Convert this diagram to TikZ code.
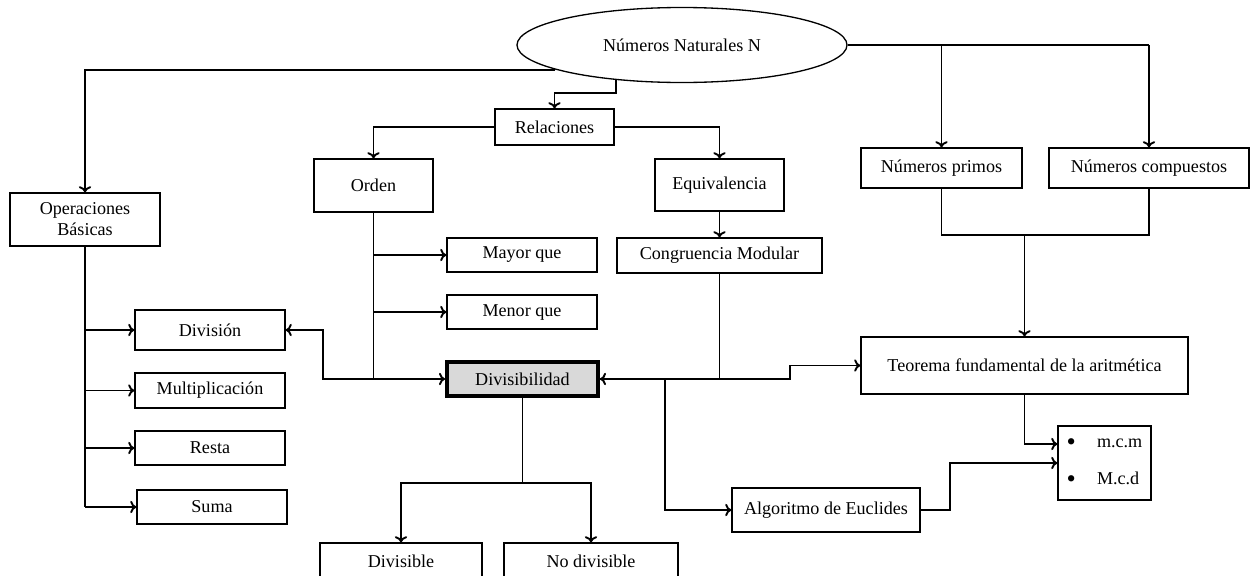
\documentclass[tikz,border=0pt]{standalone}
\usepackage{fontspec}
\setmainfont{Liberation Serif}
\usetikzlibrary{shapes.geometric,arrows.meta}

\tikzset{
  caja/.style={draw, line width=0.75pt, inner sep=2pt, align=center},
  tam/.style 2 args={minimum width=#1*0.2mm, minimum height=#2*0.2mm},
  punta/.tip={To[length=3.5pt,width=7pt]},
  flecha/.style={line width=1.1pt, -punta},
  linea/.style={line width=1.1pt}
}
\newcommand{\vineta}{\raisebox{-1.5pt}{\fontsize{15}{12}\selectfont\textbullet}}

\begin{document}
\begin{tikzpicture}[x=0.2mm, y=-0.2mm, font=\fontsize{10.3}{12}\selectfont]

\clip (0,0) rectangle (1250,575);

% Nodes
\node[draw, ellipse, line width=0.75pt, inner sep=0pt, tam={330}{75}] (nat) at (682,45) {Números Naturales N};

\node[caja, tam={150}{53}] (ops)    at (85,219.5)   {Operaciones\\Básicas};
\node[caja, tam={119}{36}] (rel)    at (554.5,127)  {Relaciones};
\node[caja, tam={119}{53}] (orden)  at (373.5,185.5){Orden};
\node[caja, tam={129}{52}] (equiv)  at (719.5,185)  {Equivalencia};
\node[caja, tam={205}{35}] (cong)   at (719.5,255.5){Congruencia Modular};
\node[caja, tam={150}{34}] (mayor)  at (522,255)    {Mayor que};
\node[caja, tam={150}{34}] (menor)  at (522,312)    {Menor que};
\node[caja, tam={151}{34}, line width=2.2pt, fill=black!15] (divi) at (522.5,379) {Divisibilidad};

\node[caja, tam={150}{40}] (division) at (210,330)   {División};
\node[caja, tam={150}{35}] (mult)     at (210,390.5) {Multiplicación};
\node[caja, tam={150}{34}] (resta)    at (210,448)   {Resta};
\node[caja, tam={150}{34}] (suma)     at (212,507)   {Suma};

\node[caja, tam={162}{36}] (divisible) at (401,561) {Divisible};
\node[caja, tam={174}{36}] (nodiv)     at (591,561) {No divisible};

\node[caja, tam={188}{44}] (alg)    at (826,510)    {Algoritmo de Euclides};
\node[caja, tam={327}{57}] (teo)    at (1024.5,365.5){Teorema fundamental de la aritmética};
\node[caja, tam={161}{40}] (primos) at (941.5,168)  {Números primos};
\node[caja, tam={200}{40}] (comp)   at (1149,168)   {Números compuestos};
\node[caja, tam={93}{74}, align=left] (mcm) at (1104.5,463)
  {\vineta\hspace{12pt}m.c.m\\[9pt]\vineta\hspace{12pt}M.c.d};

% Connectors from the top
\draw[flecha] (nat.191.5) -| (ops.north);
\draw[flecha] (nat.208) -- ++(0,13) -| (rel.north);
\draw[flecha] (rel.west) -| (orden.north);
\draw[flecha] (rel.east) -| (equiv.north);
\draw[flecha] (equiv.south) -- (cong.north);

\draw[linea] (nat.east) -- (nat.east -| comp.north);
\draw[flecha] (nat.east -| primos.north) -- (primos.north);
\draw[flecha] (nat.east -| comp.north) -- (comp.north);

% Operaciones
\draw[linea] (ops.south) -- (ops.south |- suma.west);
\foreach \n in {division,mult,resta,suma}
{
  \draw[flecha] (ops.south |- \n.west) -- (\n.west);
}

% Orden
\draw[linea] (orden.south) -- (orden.south |- divi.west);
\draw[flecha] (orden.south |- mayor.west) -- (mayor.west);
\draw[flecha] (orden.south |- menor.west) -- (menor.west);
\draw[linea, punta-punta] (division.east) -- ++(37,0) |- (divi.west);

% Divisibilidad
\draw[linea] (divi.south) -- ++(0,85) coordinate (bif);
\draw[flecha] (bif) -| (divisible.north);
\draw[flecha] (bif) -| (nodiv.north);
\draw[flecha] (cong.south) |- (divi.east);
\draw[flecha] (divi.east) -- ++(190,0) |- (teo.west);
\draw[flecha] (divi.east) ++(65,0) |- (alg.west);

% Primos y compuestos
\draw[linea] (primos.south) -- ++(0,46) coordinate (junta) -| (comp.south);
\draw[flecha] (junta -| teo.north) -- (teo.north);

% m.c.m y M.c.d
\draw[flecha] (teo.south) |- ([yshift=3.8mm]mcm.west);
\draw[flecha] (alg.east) -- ++(29,0) |- (mcm.west);
\end{tikzpicture}
\end{document}
